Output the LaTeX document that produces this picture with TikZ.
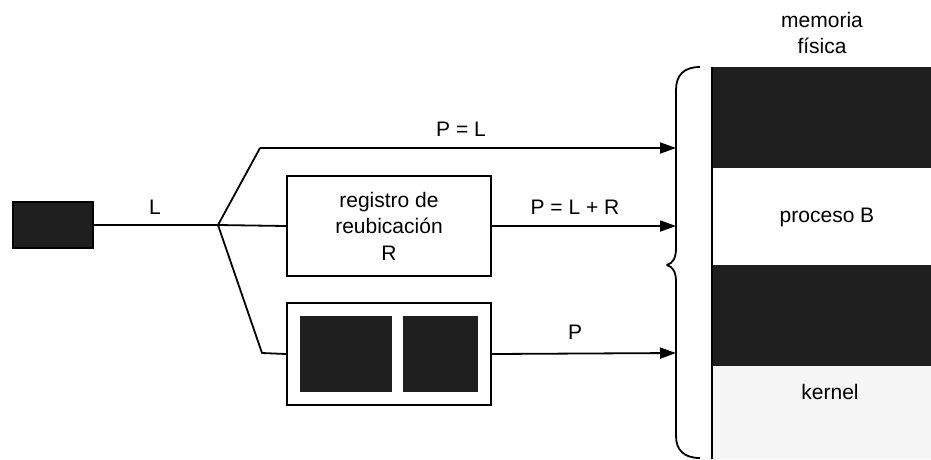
\documentclass[tikz,border=0pt]{standalone}
\usepackage{fontspec}
\setmainfont{Liberation Sans}
\usetikzlibrary{arrows.meta}
\tikzset{
  ln/.style={line width=1.8pt, line join=round},
  arr/.style={ln, -{Triangle[length=16pt,width=11pt]}},
  lbl/.style={font=\fontsize{21}{26.5}\selectfont, inner sep=0pt, align=center},
  darkfill/.style={fill=black!88},
  boxnode/.style={draw, line width=1.8pt, inner sep=0pt},
}
\begin{document}
\begin{tikzpicture}[x=1pt,y=-1pt]
\useasboundingbox (0,0) rectangle (931,459);
\fill[white] (0,0) rectangle (931,459);
% memory column
\fill[darkfill] (712,67) rectangle (931,168);
\fill[black!4] (712,366) rectangle (931,459);
\fill[darkfill] (712,265) rectangle (931,366);
\draw[ln] (712,67) -- (712,459);
\node[lbl] (mem) at (822,33) {memoria\\física};
\node[lbl] (procB) at (827,217) {proceso B};
\node[lbl] (kern) at (830,392) {kernel};
% brace
\coordinate (b1) at (676,148);
\coordinate (b2) at (676,226);
\coordinate (b3) at (676,353);
\draw[ln] (700,67) .. controls (684,67) and (676,75) .. (676,90)
  -- (676,248) .. controls (676,258) and (673,263) .. (667,265)
  .. controls (673,267) and (676,272) .. (676,282)
  -- (676,436) .. controls (676,450) and (684,458) .. (700,458);
% source
\node[boxnode, darkfill, minimum width=80pt, minimum height=46pt] (src) at (53,225) {};
\coordinate (j) at (218,225);
\node[lbl] (Llbl) at (155,207) {L};
\draw[ln] (src.east) -- (j);
% top branch
\coordinate (t1) at (260,148);
\draw[ln] (j) -- (t1);
\draw[arr] (t1) -- (b1);
\node[lbl] (PL) at (461,129) {P = L};
% middle branch
\node[boxnode, minimum width=204pt, minimum height=100pt, lbl] (reg) at (389,226) {registro de\\reubicación\\R};
\draw[ln] (j) -- (reg.west);
\draw[arr] (reg.east) -- (b2);
\node[lbl] (PLR) at (575,207) {P = L + R};
% bottom branch
\node[boxnode, minimum width=204pt, minimum height=102pt] (mmu) at (389,354) {};
\fill[darkfill] (300,316) rectangle (392,392);
\fill[darkfill] (403,316) rectangle (478,392);
\coordinate (t3) at (262,353);
\draw[ln] (j) -- (t3) -- (mmu.west);
\draw[arr] (mmu.east) -- (b3);
\node[lbl] (Plbl) at (575,332) {P};
\end{tikzpicture}
\end{document}
